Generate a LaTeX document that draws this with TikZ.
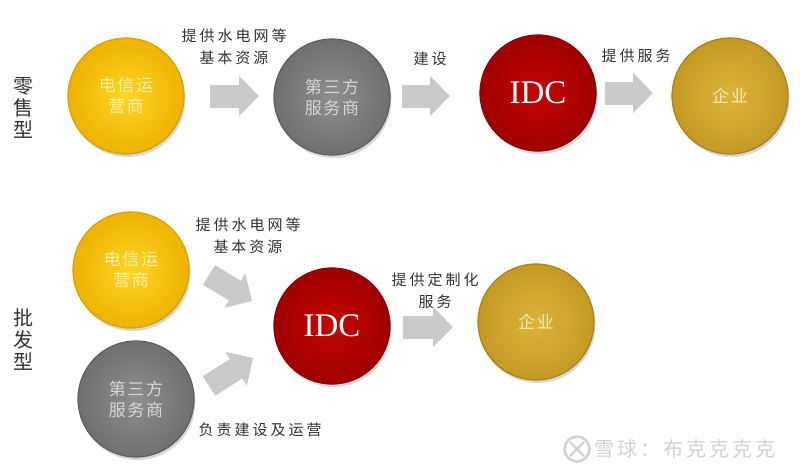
\documentclass[tikz,border=0pt]{standalone}
\usepackage{fontspec}
\setmainfont{Liberation Serif}
\newfontfamily\cjklab[LetterSpace=20]{Noto Sans CJK SC}
\newfontfamily\cjkin[LetterSpace=10]{Noto Sans CJK SC}
\newfontfamily\cjkside{Noto Sans CJK SC}
\newfontfamily\cjkwm[LetterSpace=15]{Noto Sans CJK SC}
\usetikzlibrary{arrows.meta,shadows}
\definecolor{arrgray}{HTML}{CACACA}
\definecolor{labtext}{HTML}{333333}
\definecolor{yin}{HTML}{FFD526}
\definecolor{yout}{HTML}{EDB300}
\definecolor{ybord}{HTML}{D9A000}
\definecolor{ytext}{HTML}{FCEFA6}
\definecolor{gin}{HTML}{8E8E8E}
\definecolor{gout}{HTML}{707070}
\definecolor{gbord}{HTML}{5E5E5E}
\definecolor{gtext}{HTML}{D6D6D6}
\definecolor{rin}{HTML}{C40404}
\definecolor{rout}{HTML}{A00000}
\definecolor{rbord}{HTML}{8A0000}
\definecolor{oin}{HTML}{DDB43A}
\definecolor{oout}{HTML}{C49A24}
\definecolor{obord}{HTML}{A8821A}
\definecolor{otext}{HTML}{F8EAAE}
\definecolor{wmgray}{HTML}{D2D2D2}
\begin{document}
\begin{tikzpicture}[x=1pt,y=-1pt,
  ball/.style={circle, minimum size=116pt, inner sep=0pt, line width=1.2pt, align=center,
    drop shadow={shadow xshift=1.5pt, shadow yshift=-3pt, opacity=0.3}},
  yball/.style={ball, draw=ybord, inner color=yin, outer color=yout, text=ytext,
    font=\fontsize{17}{21}\selectfont\cjkin},
  gball/.style={ball, draw=gbord, inner color=gin, outer color=gout, text=gtext,
    font=\fontsize{17}{21}\selectfont\cjkin},
  rball/.style={ball, draw=rbord, inner color=rin, outer color=rout, text=white,
    font=\fontsize{33}{36}\selectfont},
  oball/.style={ball, draw=obord, inner color=oin, outer color=oout, text=otext,
    font=\fontsize{17}{21}\selectfont\cjkin},
  lab/.style={align=center, text=labtext, inner sep=0pt, font=\fontsize{15}{22}\selectfont\cjklab},
  side/.style={align=center, text=labtext, inner sep=0pt, font=\fontsize{20}{22}\selectfont\cjkside},
  blockarr/.style={draw=arrgray, line width=23pt, -{Triangle[length=20pt, width=39pt]}}
]
\useasboundingbox (0,0) rectangle (800,474);
\fill[white] (0,0) rectangle (800,474);

% ---- retail row ----
\node[side] (s1) at (23,108) {零\\售\\型};
\node[yball] (t1) at (126,96) {电信运\\营商};
\node[gball] (t2) at (332,97) {第三方\\服务商};
\node[rball] (t3) at (538,93) {IDC};
\node[oball] (t4) at (730,96) {企业};

\coordinate (a1s) at (210,96);  \coordinate (a1e) at (259,96);
\coordinate (a2s) at (402,96);  \coordinate (a2e) at (450,96);
\coordinate (a3s) at (605,93);  \coordinate (a3e) at (653,93);
\draw[blockarr] (a1s) -- (a1e);
\draw[blockarr] (a2s) -- (a2e);
\draw[blockarr] (a3s) -- (a3e);

\node[lab] (l1) at (234,47) {提供水电网等\\基本资源};
\node[lab] (l2) at (430,59) {建设};
\node[lab] (l3) at (636,56) {提供服务};

% ---- wholesale row ----
\node[side] (s2) at (23,340) {批\\发\\型};
\node[yball] (b1) at (131,270) {电信运\\营商};
\node[gball] (b2) at (136,399) {第三方\\服务商};
\node[rball] (b3) at (332,326) {IDC};
\node[oball] (b4) at (536,322) {企业};

\coordinate (d1s) at (209,275); \coordinate (d1e) at (252,301);
\coordinate (d2s) at (209,386); \coordinate (d2e) at (253,358);
\coordinate (d3s) at (403,327); \coordinate (d3e) at (453,327);
\draw[blockarr] (d1s) -- (d1e);
\draw[blockarr] (d2s) -- (d2e);
\draw[blockarr] (d3s) -- (d3e);

\node[lab] (m1) at (248,236) {提供水电网等\\基本资源};
\node[lab] (m2) at (260,430) {负责建设及运营};
\node[lab] (m3) at (435,291) {提供定制化\\服务};

% ---- watermark ----
\node[circle, draw=wmgray, line width=2.5pt, minimum size=25pt, inner sep=0pt] (wl) at (577,449) {};
\draw[wmgray, line width=2.2pt] (570,442) .. controls (577,449) .. (584,456);
\draw[wmgray, line width=2.2pt] (584,442) .. controls (577,449) .. (570,456);
\node[text=wmgray, inner sep=0pt, anchor=west, font=\fontsize{20}{22}\selectfont\cjkwm] (wm) at (594,449) {雪球：布克克克克};
\end{tikzpicture}
\end{document}
